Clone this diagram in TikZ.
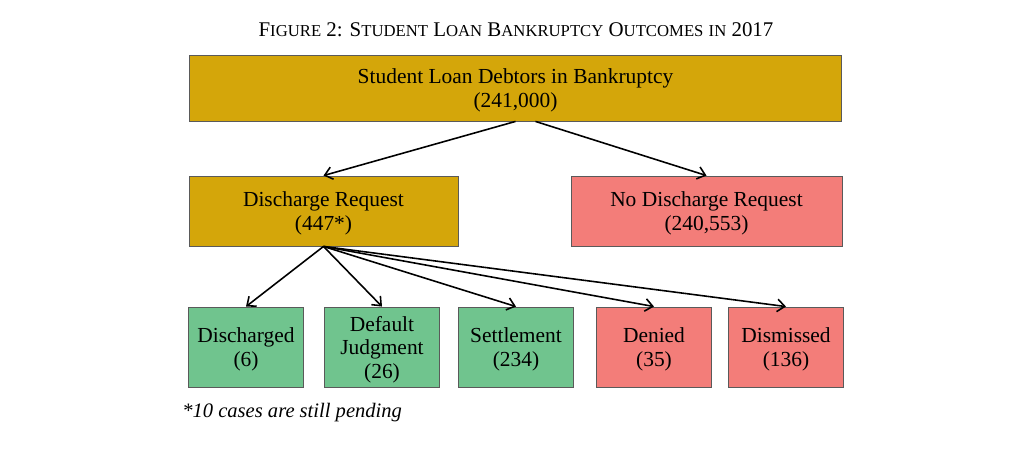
\documentclass[tikz,border=0pt]{standalone}
\usepackage{fontspec}
\setmainfont{Liberation Serif}
\usepackage{tikz}
\usetikzlibrary{arrows.meta}
\usepackage{xcolor}
\definecolor{loangold}{RGB}{212,166,10}
\definecolor{loanred}{RGB}{243,125,121}
\definecolor{loangreen}{RGB}{112,196,142}
\definecolor{loanedge}{RGB}{90,90,90}
% fake small caps: first letter full size, rest smaller
\newcommand{\capsword}[2]{#1{\fontsize{9.5}{11}\selectfont #2}}

\begin{document}
\begin{tikzpicture}[x=0.02cm,y=-0.02cm,>={Straight Barb[length=1.5mm,width=2.5mm]},
    every node/.style={font=\fontsize{12.2}{13.4}\selectfont},
    box/.style={draw=loanedge,line width=0.5pt,align=center,inner sep=0pt,text depth=-5.5pt},
    goldbox/.style={box,fill=loangold},
    redbox/.style={box,fill=loanred},
    greenbox/.style={box,fill=loangreen,minimum width=2.3cm,minimum height=1.6cm},
    link/.style={->,line width=0.9pt}]
    \useasboundingbox (0,0) rectangle (1036,454);

    % Title
    \node[font=\fontsize{11.9}{13}\selectfont] (title) at (516,30) {\capsword{F}{IGURE} 2: \capsword{S}{TUDENT} \capsword{L}{OAN} \capsword{B}{ANKRUPTCY} \capsword{O}{UTCOMES} {\fontsize{9.5}{11}\selectfont IN} 2017};

    % Top level
    \node[goldbox,minimum width=13.06cm,minimum height=1.32cm] (debtors) at (515.5,88) {Student Loan Debtors in Bankruptcy\\(241,000)};

    % Second level
    \node[goldbox,minimum width=5.38cm,minimum height=1.4cm] (request) at (323.5,211) {Discharge Request\\(447*)};
    \node[redbox,minimum width=5.42cm,minimum height=1.4cm] (norequest) at (706.5,211) {No Discharge Request\\(240,553)};

    % Outcomes
    \node[greenbox] (discharged) at (246,347) {Discharged\\(6)};
    \node[greenbox] (default) at (382,347) {Default\\Judgment\\(26)};
    \node[greenbox] (settlement) at (516,347) {Settlement\\(234)};
    \node[greenbox,fill=loanred] (denied) at (654,347) {Denied\\(35)};
    \node[greenbox,fill=loanred] (dismissed) at (786,347) {Dismissed\\(136)};

    % Connectors
    \draw[link] (debtors.south) -- (request.north);
    \draw[link] ([xshift=0.4cm]debtors.south) -- (norequest.north);
    \foreach \outcome in {discharged,default,settlement,denied,dismissed}
        \draw[link] (request.south) -- (\outcome.north);

    % Note
    \node[anchor=base west,inner sep=0pt,font=\fontsize{11.7}{13}\selectfont\itshape] (note) at (182,417) {*10 cases are still pending};
\end{tikzpicture}
\end{document}
